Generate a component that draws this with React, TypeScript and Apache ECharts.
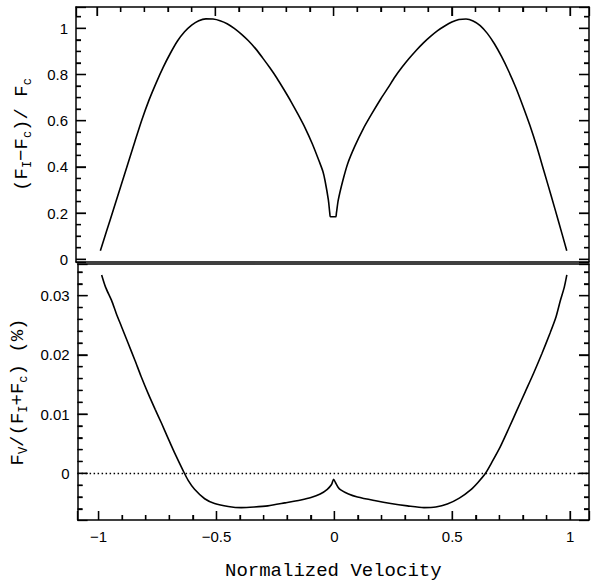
import { useEffect, useRef } from 'react';
import * as echarts from 'echarts';

// Top panel: (F_I - F_c) / F_c versus normalized velocity
const topVelocity = [
  -0.986, -0.96, -0.93, -0.9, -0.87, -0.84, -0.81, -0.78, -0.75, -0.72,
  -0.69, -0.66, -0.63, -0.6, -0.57, -0.54, -0.51, -0.48, -0.45, -0.42,
  -0.39, -0.36, -0.33, -0.3, -0.27, -0.24, -0.21, -0.18, -0.15, -0.12,
  -0.09, -0.06, -0.045, -0.036, -0.022, -0.016, -0.013, 0.009, 0.012, 0.02,
  0.039, 0.06, 0.09, 0.126, 0.16, 0.2, 0.23, 0.26, 0.29,
  0.32, 0.35, 0.38, 0.41, 0.44, 0.47, 0.5, 0.53, 0.56, 0.59,
  0.62, 0.65, 0.68, 0.71, 0.74, 0.77, 0.8, 0.83, 0.86, 0.89,
  0.92, 0.95, 0.986,
];
const topFlux = [
  0.037, 0.121, 0.218, 0.315, 0.413, 0.51, 0.605, 0.69, 0.764, 0.832,
  0.892, 0.945, 0.985, 1.014, 1.033, 1.041, 1.04, 1.033, 1.02, 1.0,
  0.975, 0.946, 0.912, 0.872, 0.83, 0.785, 0.735, 0.683, 0.627, 0.568,
  0.5, 0.422, 0.38, 0.34, 0.257, 0.2, 0.184, 0.184, 0.2, 0.257,
  0.34, 0.415, 0.49, 0.566, 0.627, 0.695, 0.742, 0.79, 0.832,
  0.87, 0.905, 0.937, 0.965, 0.99, 1.01, 1.027, 1.038, 1.04, 1.032,
  1.012, 0.978, 0.933, 0.878, 0.815, 0.745, 0.665, 0.58, 0.485, 0.38,
  0.275, 0.168, 0.037,
];

// Bottom panel: F_V / (F_I + F_c) (%) versus normalized velocity
const bottomVelocity = [
  -0.987, -0.97, -0.945, -0.925, -0.903, -0.875, -0.846, -0.82, -0.79, -0.76,
  -0.733, -0.705, -0.677, -0.642, -0.62, -0.593, -0.55, -0.508, -0.45, -0.395,
  -0.34, -0.282, -0.21, -0.142, -0.099, -0.06, -0.03, -0.012, -0.003, 0.005,
  0.015, 0.027, 0.06, 0.098, 0.17, 0.239, 0.31, 0.38, 0.43, 0.479,
  0.53, 0.578, 0.61, 0.641, 0.67, 0.704, 0.74, 0.775, 0.81, 0.845,
  0.88, 0.915, 0.94, 0.958, 0.975, 0.986,
];
const bottomPolarization = [
  0.0335, 0.0314, 0.0292, 0.027, 0.0248, 0.022, 0.0191, 0.0164, 0.0135, 0.0108,
  0.00845, 0.0059, 0.0034, 0.0005, -0.0012, -0.0027, -0.0043, -0.0051, -0.0056, -0.0058,
  -0.0057, -0.0055, -0.005, -0.0045, -0.0041, -0.0035, -0.0027, -0.0019, -0.001, -0.0016,
  -0.0023, -0.0028, -0.0035, -0.004, -0.0046, -0.0051, -0.0055, -0.0058, -0.0057, -0.0052,
  -0.0042, -0.0028, -0.0015, 0.0, 0.002, 0.0045, 0.0076, 0.0107, 0.0138, 0.0169,
  0.0202, 0.0237, 0.0264, 0.0291, 0.0314, 0.0335,
];

// Axis ranges and tick positions
const xRange = [-1.089, 1.08];
const topRange = [-0.0117, 1.0922];
const bottomRange = [-0.00789, 0.03535];
const xMajorTicks = [-1, -0.5, 0, 0.5, 1];
const xMinorTicks = [
  -0.9, -0.8, -0.7, -0.6, -0.4, -0.3, -0.2, -0.1,
  0.1, 0.2, 0.3, 0.4, 0.6, 0.7, 0.8, 0.9,
];
const topMajorTicks = [0, 0.2, 0.4, 0.6, 0.8, 1];
const topMinorTicks = [
  0.05, 0.1, 0.15, 0.25, 0.3, 0.35, 0.45, 0.5, 0.55, 0.65, 0.7, 0.75,
  0.85, 0.9, 0.95, 1.05,
];
const bottomMajorTicks = [0, 0.01, 0.02, 0.03];
const bottomMinorTicks = [
  -0.006, -0.004, -0.002, 0.002, 0.004, 0.006, 0.008, 0.012, 0.014, 0.016,
  0.018, 0.022, 0.024, 0.026, 0.028, 0.032, 0.034,
];

const MAJOR_X = 9;
const MAJOR_Y = 10;
const MINOR = 5;

export default function App() {
  const ref = useRef<HTMLDivElement>(null);

  useEffect(() => {
    if (!ref.current) return;
    const chart = echarts.init(ref.current, null, { renderer: 'svg' });
    const fmt = (v: number) => String(v).replace('-', '\u2212');
    const nameRich = {
      p: { fontFamily: 'Liberation Mono', fontSize: 19, lineHeight: 24, color: '#000' },
      s: {
        fontFamily: 'Liberation Mono',
        fontSize: 12,
        lineHeight: 12,
        verticalAlign: 'bottom',
        color: '#000',
      },
    };

    const axis = (
      gridIndex: number,
      pos: string,
      range: number[],
      split: number,
      minorSplit: number,
      ticks: boolean,
      labels: boolean,
      majorLen: number,
    ) => ({
      type: 'value',
      gridIndex,
      position: pos,
      min: range[0],
      max: range[1],
      splitNumber: split,
      axisLine: { show: true, onZero: false, lineStyle: { color: '#000', width: 1.5 } },
      axisTick: {
        show: ticks,
        inside: true,
        length: majorLen,
        lineStyle: { color: '#000', width: 1.3 },
      },
      minorTick: {
        show: ticks,
        splitNumber: minorSplit,
        length: MINOR,
        lineStyle: { color: '#000', width: 1.3 },
      },
      splitLine: { show: false },
      axisLabel: {
        show: labels,
        fontFamily: 'Liberation Sans',
        fontSize: 15,
        color: '#000',
        margin: 8,
        formatter: fmt,
        showMinLabel: false,
        showMaxLabel: false,
      },
    });

    // tick rows: [x, y, dx, dy] in the panel's data coordinates, plus pixel direction
    const panelTicks = (
      yMajor: number[],
      yMinor: number[],
      xEdge: number,
      xDir: number,
    ) => [
      ...xMajorTicks.map((v) => [v, xEdge, 0, xDir * MAJOR_X]),
      ...xMinorTicks.map((v) => [v, xEdge, 0, xDir * MINOR]),
      ...yMajor.map((v) => [xRange[0], v, MAJOR_Y, 0]),
      ...yMinor.map((v) => [xRange[0], v, MINOR, 0]),
      ...yMajor.map((v) => [xRange[1], v, -MAJOR_Y, 0]),
      ...yMinor.map((v) => [xRange[1], v, -MINOR, 0]),
    ];

    const renderTick = (_params: any, api: any) => {
      const p = api.coord([api.value(0), api.value(1)]);
      return {
        type: 'line',
        shape: { x1: p[0], y1: p[1], x2: p[0] + api.value(2), y2: p[1] + api.value(3) },
        style: { stroke: '#000', lineWidth: 1.3 },
      };
    };

    const option = {
      animation: false,
      grid: [
        { left: 76, right: 2, top: 7, height: 255, show: false },
        { left: 76, right: 2, top: 264, height: 256, show: false },
      ],
      xAxis: [
        axis(0, 'top', xRange, 4, 5, true, false, MAJOR_X),
        axis(0, 'bottom', xRange, 4, 5, false, false, MAJOR_X),
        {
          ...axis(1, 'bottom', xRange, 4, 5, true, true, MAJOR_X),
          axisLabel: {
            show: true,
            fontFamily: 'Liberation Sans',
            fontSize: 15,
            color: '#000',
            margin: 9,
            formatter: fmt,
            showMinLabel: false,
            showMaxLabel: false,
          },
          name: 'Normalized Velocity',
          nameLocation: 'middle',
          nameGap: 41,
          nameTextStyle: { fontFamily: 'Liberation Mono', fontSize: 19, color: '#000' },
        },
        axis(1, 'top', xRange, 4, 5, false, false, MAJOR_X),
      ],
      yAxis: [
        {
          ...axis(0, 'left', topRange, 5, 4, true, true, MAJOR_Y),
          name: '{p|(F}{s|I}{p|\u2212F}{s|c}{p|)/ F}{s|c}',
          nameLocation: 'middle',
          nameRotate: 90,
          nameGap: 42,
          nameTextStyle: { rich: nameRich },
        },
        axis(0, 'right', topRange, 5, 4, true, false, MAJOR_Y),
        {
          ...axis(1, 'left', bottomRange, 4, 5, true, true, MAJOR_Y),
          name: '{p|F}{s|V}{p|/(F}{s|I}{p|+F}{s|c}{p|) (%)}',
          nameLocation: 'middle',
          nameRotate: 90,
          nameGap: 42,
          nameTextStyle: { rich: nameRich },
        },
        axis(1, 'right', bottomRange, 4, 5, true, false, MAJOR_Y),
      ],
      series: [
        {
          type: 'line',
          xAxisIndex: 0,
          yAxisIndex: 0,
          data: topVelocity.map((v, i) => [v, topFlux[i]]),
          showSymbol: false,
          smooth: 0.25,
          lineStyle: { color: '#000', width: 1.6 },
          silent: true,
        },
        {
          type: 'line',
          xAxisIndex: 2,
          yAxisIndex: 2,
          data: bottomVelocity.map((v, i) => [v, bottomPolarization[i]]),
          showSymbol: false,
          smooth: 0.25,
          lineStyle: { color: '#000', width: 1.6 },
          silent: true,
          markLine: {
            silent: true,
            symbol: ['none', 'none'],
            label: { show: false },
            lineStyle: { color: '#000', type: [1.5, 2.5], width: 1.3 },
            data: [{ yAxis: 0 }],
          },
        },
        {
          type: 'custom',
          xAxisIndex: 0,
          yAxisIndex: 0,
          silent: true,
          clip: false,
          z: 4,
          data: panelTicks(topMajorTicks, topMinorTicks, topRange[1], 1),
          renderItem: renderTick,
        },
        {
          type: 'custom',
          xAxisIndex: 2,
          yAxisIndex: 2,
          silent: true,
          clip: false,
          z: 4,
          data: panelTicks(bottomMajorTicks, bottomMinorTicks, bottomRange[0], -1),
          renderItem: renderTick,
        },
      ],
    };

    chart.setOption(option as any);
    return () => chart.dispose();
  }, []);

  return (
    <div
      ref={ref}
      style={{
        position: 'fixed',
        left: 0,
        top: 0,
        width: 591,
        height: 586,
        background: '#fff',
      }}
    />
  );
}
